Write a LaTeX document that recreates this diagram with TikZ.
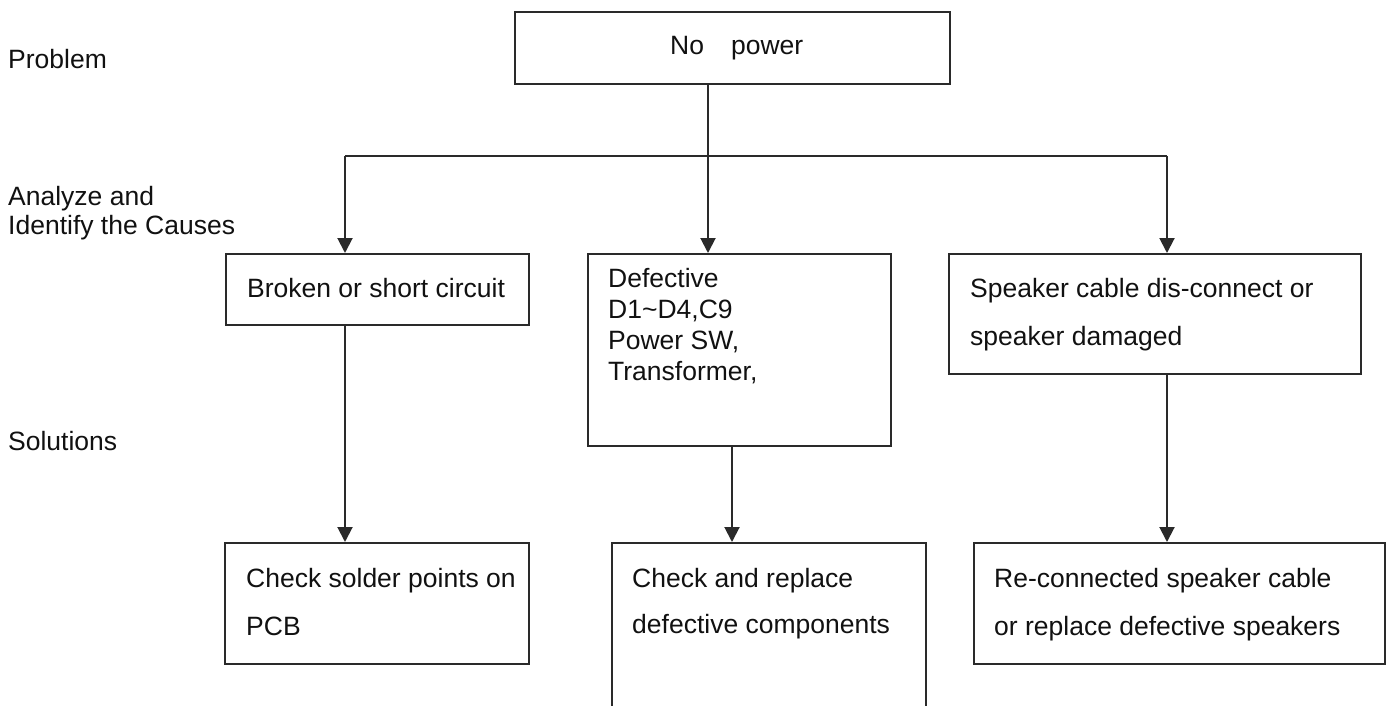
\documentclass[tikz,border=0pt]{standalone}
\usepackage{fontspec}
\setmainfont{Liberation Sans}
\usetikzlibrary{arrows.meta}
\definecolor{ln}{HTML}{2A2A2A}
\definecolor{tx}{HTML}{111111}
\tikzset{
  box/.style={draw=ln, line width=2pt, rectangle, inner sep=0pt, anchor=north west},
  txt/.style={anchor=base west, inner sep=0pt, text=tx, font=\fontsize{26.5}{30}\selectfont},
  conn/.style={draw=ln, line width=2pt},
  arr/.style={conn, -{Triangle[length=15pt,width=15pt]}}
}
\begin{document}
\begin{tikzpicture}[x=1pt,y=-1pt]
\useasboundingbox (0,0) rectangle (1390,706);
\clip (0,0) rectangle (1390,706);
\fill[white] (0,0) rectangle (1390,706);
% side labels
\node[txt] (lp) at (8,69) {Problem};
\node[txt] (la1) at (8,205) {Analyze and};
\node[txt] (la2) at (8,234) {Identify the Causes};
\node[txt] (ls) at (8,450) {Solutions};
% boxes
\node[box, minimum width=435pt, minimum height=72pt] (top) at (514,11) {};
\node[box, minimum width=303pt, minimum height=71pt] (b1) at (225,253) {};
\node[box, minimum width=303pt, minimum height=192pt] (b2) at (587,253) {};
\node[box, minimum width=412pt, minimum height=120pt] (b3) at (948,253) {};
\node[box, minimum width=304pt, minimum height=121pt] (s1) at (224,542) {};
\node[box, minimum width=314pt, minimum height=200pt] (s2) at (611,542) {};
\node[box, minimum width=411pt, minimum height=121pt] (s3) at (973,542) {};
% texts
\node[txt] (t0) at (670,55) {No\hspace{27pt}power};
\node[txt] (t1) at (247,297) {Broken or short circuit};
\node[txt] (t2a) at (608,287) {Defective};
\node[txt] (t2b) at (608,318) {D1\char`~D4,C9};
\node[txt] (t2c) at (608,349) {Power SW,};
\node[txt] (t2d) at (608,380) {Transformer,};
\node[txt] (t3a) at (970,297) {Speaker cable dis-connect or};
\node[txt] (t3b) at (970,345) {speaker damaged};
\node[txt] (u1a) at (246,587) {Check solder points on};
\node[txt] (u1b) at (246,635) {PCB};
\node[txt] (u2a) at (632,587) {Check and replace};
\node[txt] (u2b) at (632,633) {defective components};
\node[txt] (u3a) at (994,587) {Re-connected speaker cable};
\node[txt] (u3b) at (994,635) {or replace defective speakers};
% connectors
\coordinate (jL) at (345,156);
\coordinate (jC) at (708,156);
\coordinate (jR) at (1167,156);
\coordinate (xM) at (732,0);
\draw[conn] (top.south -| jC) -- (jC);
\draw[conn] (jL) -- (jR);
\draw[arr] (jL) -- (jL |- b1.north);
\draw[arr] (jC) -- (jC |- b2.north);
\draw[arr] (jR) -- (jR |- b3.north);
\draw[arr] (jL |- b1.south) -- (jL |- s1.north);
\draw[arr] (xM |- b2.south) -- (xM |- s2.north);
\draw[arr] (jR |- b3.south) -- (jR |- s3.north);
\end{tikzpicture}
\end{document}
